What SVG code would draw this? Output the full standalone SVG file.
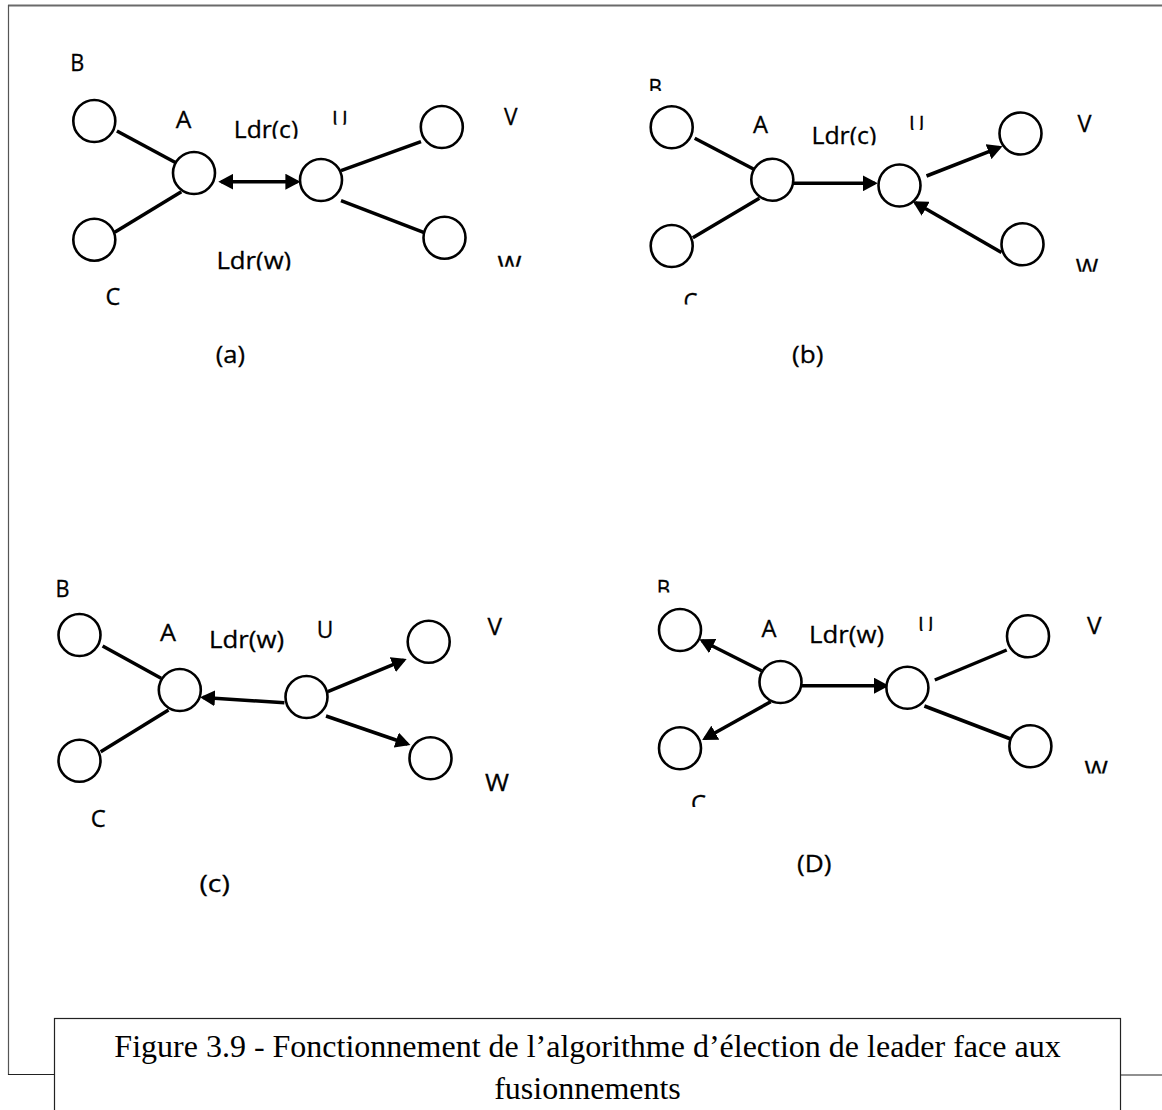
<svg xmlns="http://www.w3.org/2000/svg" width="1162" height="1110" viewBox="0 0 1162 1110">
  <style>
    .node { fill: #ffffff; stroke: #000000; stroke-width: 2.6; }
    .edge { stroke: #000000; stroke-width: 3.5; fill: none; stroke-linecap: butt; }
    .arrow { marker-end: url(#head); }
    .both { marker-start: url(#head); marker-end: url(#head); }
    .lbl { font-family: "Open Sans", "Noto Sans", "DejaVu Sans", sans-serif; font-size: 24.5px; fill: #000000; stroke: #000000; stroke-width: 0.3; }
    .cap { font-family: "Liberation Serif", "Times New Roman", serif; font-size: 32px; fill: #000000; text-anchor: middle; }
  </style>
  <defs>
    <marker id="head" viewBox="0 0 15 16" markerUnits="userSpaceOnUse" markerWidth="15" markerHeight="16" refX="12" refY="8" orient="auto-start-reverse">
      <path d="M0,0 L15,8 L0,16 Z" fill="#000000"/>
    </marker>
    <!-- clipping boxes for labels whose text frames cut them off -->
    <clipPath id="c-a-ldrc" clipPathUnits="userSpaceOnUse"><rect x="220" y="100" width="100" height="38.8"/></clipPath>
    <clipPath id="c-a-u" clipPathUnits="userSpaceOnUse"><rect x="325" y="100" width="30" height="24.8"/></clipPath>
    <clipPath id="c-a-w" clipPathUnits="userSpaceOnUse"><rect x="490" y="240" width="40" height="26.8"/></clipPath>
    <clipPath id="c-a-ldrw" clipPathUnits="userSpaceOnUse"><rect x="205" y="240" width="100" height="30.5"/></clipPath>
    <clipPath id="c-b-b" clipPathUnits="userSpaceOnUse"><rect x="640" y="70" width="30" height="21"/></clipPath>
    <clipPath id="c-b-ldrc" clipPathUnits="userSpaceOnUse"><rect x="800" y="110" width="90" height="35.2"/></clipPath>
    <clipPath id="c-b-u" clipPathUnits="userSpaceOnUse"><rect x="900" y="105" width="35" height="25"/></clipPath>
    <clipPath id="c-b-w" clipPathUnits="userSpaceOnUse"><rect x="1068" y="250" width="40" height="21.7"/></clipPath>
    <clipPath id="c-b-c" clipPathUnits="userSpaceOnUse"><rect x="675" y="285" width="30" height="19.5"/></clipPath>
    <clipPath id="c-d-b" clipPathUnits="userSpaceOnUse"><rect x="650" y="570" width="30" height="22.5"/></clipPath>
    <clipPath id="c-d-ldrw" clipPathUnits="userSpaceOnUse"><rect x="800" y="610" width="100" height="38.5"/></clipPath>
    <clipPath id="c-d-u" clipPathUnits="userSpaceOnUse"><rect x="910" y="605" width="35" height="26"/></clipPath>
    <clipPath id="c-d-w" clipPathUnits="userSpaceOnUse"><rect x="1078" y="750" width="40" height="23.5"/></clipPath>
    <clipPath id="c-d-c" clipPathUnits="userSpaceOnUse"><rect x="684" y="785" width="30" height="22"/></clipPath>
  </defs>

  <rect x="0" y="0" width="1162" height="1110" fill="#ffffff"/>

  <!-- outer frame -->
  <g id="frame" fill="none">
    <line x1="8" y1="5.5" x2="1162" y2="5.5" stroke="#6a6a6a" stroke-width="2"/>
    <line x1="8.5" y1="5" x2="8.5" y2="1075" stroke="#555555" stroke-width="1.2"/>
    <line x1="8" y1="1074.5" x2="55" y2="1074.5" stroke="#222222" stroke-width="1.2"/>
    <line x1="1121" y1="1075" x2="1162" y2="1075" stroke="#222222" stroke-width="1.2"/>
  </g>

  <!-- connectors -->
  <g id="connectors">
    <!-- (a) -->
    <line class="edge" x1="116.9" y1="131" x2="176.8" y2="163.3"/>
    <line class="edge" x1="114.7" y1="232.3" x2="181.3" y2="191.7"/>
    <line class="edge" x1="341" y1="170.7" x2="421" y2="141.7"/>
    <line class="edge" x1="341" y1="200.7" x2="423.6" y2="232.3"/>
    <line class="edge both" x1="221.3" y1="181.7" x2="297.4" y2="181.7"/>
    <!-- (b) -->
    <line class="edge" x1="694.7" y1="138.3" x2="753.9" y2="169.3"/>
    <line class="edge" x1="692.8" y1="237.7" x2="759.4" y2="198.3"/>
    <line class="edge arrow" x1="793.5" y1="183.3" x2="874.8" y2="183.3"/>
    <line class="edge arrow" x1="926.5" y1="176" x2="999.7" y2="147.3"/>
    <line class="edge arrow" x1="1001.5" y1="252.5" x2="915.3" y2="202.8"/>
    <!-- (c) -->
    <line class="edge" x1="102.6" y1="646" x2="161.1" y2="678.3"/>
    <line class="edge" x1="100.7" y1="751.7" x2="168.5" y2="710"/>
    <line class="edge arrow" x1="284.4" y1="702.7" x2="203" y2="697.5"/>
    <line class="edge arrow" x1="327.8" y1="691.7" x2="403.9" y2="660.1"/>
    <line class="edge arrow" x1="326" y1="716" x2="407.6" y2="744"/>
    <!-- (D) -->
    <line class="edge arrow" x1="761.5" y1="670.7" x2="702" y2="640.7"/>
    <line class="edge arrow" x1="770.7" y1="701.7" x2="704.8" y2="738.5"/>
    <line class="edge arrow" x1="802" y1="685.7" x2="886" y2="685.7"/>
    <line class="edge" x1="934.8" y1="680" x2="1006.7" y2="650"/>
    <line class="edge" x1="924.4" y1="706" x2="1013.3" y2="740"/>
  </g>

  <!-- panel (a) -->
  <g id="a-B"><circle class="node" cx="94.3" cy="121" r="21"/><text class="lbl" x="70.3" y="71" textLength="14" lengthAdjust="spacingAndGlyphs">B</text></g>
  <g id="a-A"><circle class="node" cx="194" cy="173" r="21"/><text class="lbl" x="175.7" y="128" textLength="15.6" lengthAdjust="spacingAndGlyphs">A</text></g>
  <g id="a-U"><circle class="node" cx="321" cy="180" r="21"/><text class="lbl" x="332" y="128" textLength="15.8" lengthAdjust="spacingAndGlyphs" clip-path="url(#c-a-u)">U</text></g>
  <g id="a-V"><circle class="node" cx="441.8" cy="127" r="21"/><text class="lbl" x="504" y="124.5" textLength="13.5" lengthAdjust="spacingAndGlyphs">V</text></g>
  <g id="a-W"><circle class="node" cx="444.5" cy="237.7" r="21"/><text class="lbl" x="497.6" y="272.5" textLength="24" lengthAdjust="spacingAndGlyphs" clip-path="url(#c-a-w)">W</text></g>
  <g id="a-C"><circle class="node" cx="94.3" cy="239.7" r="21"/><text class="lbl" x="105.4" y="304.8" textLength="14.8" lengthAdjust="spacingAndGlyphs">C</text></g>
  <g id="a-labels">
    <text class="lbl" x="233.8" y="137.5" textLength="64.4" lengthAdjust="spacingAndGlyphs" clip-path="url(#c-a-ldrc)">Ldr(c)</text>
    <text class="lbl" x="216.4" y="268.8" textLength="74.8" lengthAdjust="spacingAndGlyphs" clip-path="url(#c-a-ldrw)">Ldr(w)</text>
    <text class="lbl" x="215.7" y="363.2" textLength="29.3" lengthAdjust="spacingAndGlyphs">(a)</text>
  </g>

  <!-- panel (b) -->
  <g id="b-B"><circle class="node" cx="671.7" cy="127.3" r="21"/><text class="lbl" x="648.5" y="96" textLength="13.5" lengthAdjust="spacingAndGlyphs" clip-path="url(#c-b-b)">B</text></g>
  <g id="b-A"><circle class="node" cx="772.3" cy="179.7" r="21"/><text class="lbl" x="753" y="132.8" textLength="15" lengthAdjust="spacingAndGlyphs">A</text></g>
  <g id="b-U"><circle class="node" cx="899.5" cy="185.5" r="21"/><text class="lbl" x="909" y="132.5" textLength="15.5" lengthAdjust="spacingAndGlyphs" clip-path="url(#c-b-u)">U</text></g>
  <g id="b-V"><circle class="node" cx="1020.5" cy="133.5" r="21"/><text class="lbl" x="1077.6" y="132" textLength="14" lengthAdjust="spacingAndGlyphs">V</text></g>
  <g id="b-W"><circle class="node" cx="1022.5" cy="244.3" r="21"/><text class="lbl" x="1075.7" y="276" textLength="22.5" lengthAdjust="spacingAndGlyphs" clip-path="url(#c-b-w)">W</text></g>
  <g id="b-C"><circle class="node" cx="671.7" cy="246" r="21"/><text class="lbl" x="683.6" y="309.5" textLength="14" lengthAdjust="spacingAndGlyphs" clip-path="url(#c-b-c)">C</text></g>
  <g id="b-labels">
    <text class="lbl" x="811.4" y="143.5" textLength="65" lengthAdjust="spacingAndGlyphs" clip-path="url(#c-b-ldrc)">Ldr(c)</text>
    <text class="lbl" x="792" y="363.2" textLength="31.4" lengthAdjust="spacingAndGlyphs">(b)</text>
  </g>

  <!-- panel (c) -->
  <g id="c-B"><circle class="node" cx="79.5" cy="635" r="21"/><text class="lbl" x="55.6" y="596.5" textLength="14" lengthAdjust="spacingAndGlyphs">B</text></g>
  <g id="c-A"><circle class="node" cx="179.8" cy="690" r="21"/><text class="lbl" x="160" y="640.5" textLength="16" lengthAdjust="spacingAndGlyphs">A</text></g>
  <g id="c-U"><circle class="node" cx="306.5" cy="697" r="21"/><text class="lbl" x="316.7" y="637.5" textLength="16.6" lengthAdjust="spacingAndGlyphs">U</text></g>
  <g id="c-V"><circle class="node" cx="428.7" cy="641.7" r="21"/><text class="lbl" x="487.5" y="634.5" textLength="14.5" lengthAdjust="spacingAndGlyphs">V</text></g>
  <g id="c-W"><circle class="node" cx="430.5" cy="758.3" r="21"/><text class="lbl" x="485" y="791" textLength="24" lengthAdjust="spacingAndGlyphs">W</text></g>
  <g id="c-C"><circle class="node" cx="79.5" cy="760.7" r="21"/><text class="lbl" x="90.7" y="826.5" textLength="15" lengthAdjust="spacingAndGlyphs">C</text></g>
  <g id="c-labels">
    <text class="lbl" x="209" y="647.5" textLength="75" lengthAdjust="spacingAndGlyphs">Ldr(w)</text>
    <text class="lbl" x="199.5" y="891.5" textLength="30.3" lengthAdjust="spacingAndGlyphs">(c)</text>
  </g>

  <!-- panel (D) -->
  <g id="d-B"><circle class="node" cx="680" cy="630" r="21"/><text class="lbl" x="656.7" y="596.5" textLength="13.5" lengthAdjust="spacingAndGlyphs" clip-path="url(#c-d-b)">B</text></g>
  <g id="d-A"><circle class="node" cx="780.5" cy="682" r="21"/><text class="lbl" x="761.5" y="636.5" textLength="15" lengthAdjust="spacingAndGlyphs">A</text></g>
  <g id="d-U"><circle class="node" cx="907.4" cy="687.8" r="21"/><text class="lbl" x="918" y="634" textLength="15.7" lengthAdjust="spacingAndGlyphs" clip-path="url(#c-d-u)">U</text></g>
  <g id="d-V"><circle class="node" cx="1028" cy="636.3" r="21"/><text class="lbl" x="1087" y="633.8" textLength="14.5" lengthAdjust="spacingAndGlyphs">V</text></g>
  <g id="d-W"><circle class="node" cx="1030.4" cy="746.3" r="21"/><text class="lbl" x="1084.4" y="778" textLength="23.4" lengthAdjust="spacingAndGlyphs" clip-path="url(#c-d-w)">W</text></g>
  <g id="d-C"><circle class="node" cx="680" cy="748.3" r="21"/><text class="lbl" x="691" y="812" textLength="15" lengthAdjust="spacingAndGlyphs" clip-path="url(#c-d-c)">C</text></g>
  <g id="d-labels">
    <text class="lbl" x="809" y="642.5" textLength="75" lengthAdjust="spacingAndGlyphs" clip-path="url(#c-d-ldrw)">Ldr(w)</text>
    <text class="lbl" x="797" y="871.5" textLength="34.5" lengthAdjust="spacingAndGlyphs">(D)</text>
  </g>

  <!-- caption -->
  <g id="caption">
    <rect x="54.5" y="1018.5" width="1066" height="100" fill="#ffffff" stroke="#222222" stroke-width="1.2"/>
    <text class="cap" x="587.5" y="1057">Figure 3.9 - Fonctionnement de l’algorithme d’élection de leader face aux</text>
    <text class="cap" x="587.5" y="1099">fusionnements</text>
  </g>
</svg>
